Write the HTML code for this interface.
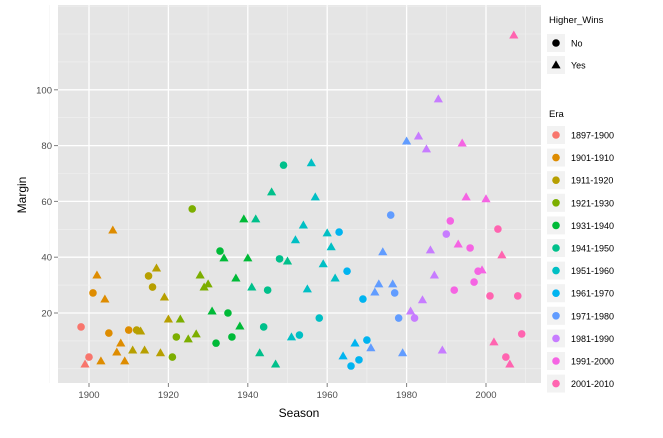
<!DOCTYPE html>
<html><head><meta charset="utf-8"><style>
body{margin:0;background:#fff;font-family:"Liberation Sans",sans-serif}
svg text{font-family:"Liberation Sans",sans-serif}
</style></head><body>
<svg id="chart" width="663" height="433" xmlns="http://www.w3.org/2000/svg">
<rect x="58" y="5" width="483" height="378" fill="#e5e5e5"/>
<g id="grid"></g>
<g id="points"></g>
<g id="axes"></g>
<text x="299" y="417" text-anchor="middle" font-size="12">Season</text>
<text transform="translate(26,195) rotate(-90)" text-anchor="middle" font-size="12">Margin</text>
<g id="legend"></g>
</svg>
<script>
const eraLabels=["1897-1900","1901-1910","1911-1920","1921-1930","1931-1940","1941-1950","1951-1960","1961-1970","1971-1980","1981-1990","1991-2000","2001-2010"];
const eraColors=["#F8766D","#DE8C00","#B79F00","#7CAE00","#00BA38","#00C08B","#00BFC4","#00B4F0","#619CFF","#C77CFF","#F564E3","#FF64B0"];
const seasons=[1898,1900,1899, 1902,1901,1904,1906,1905,1910,1908,1907,1903,1909, 1912,1913,1917,1915,1916,1919,1920,1911,1914,1918, 1926,1923,1922,1921,1925,1927,1928,1929,1930, 1933,1934,1940,1939,1937,1931,1935,1938,1932,1936, 1942,1941,1943,1947,1944,1945,1948,1950,1946,1949, 1956,1951,1952,1957,1954,1960,1961,1959,1962,1955,1958,1953, 1963,1965,1969,1970,1967,1964,1968,1966, 1976,1974,1973,1976.5,1972,1977,1978,1971,1979,1980, 1988,1983,1985,1990,1986,1987,1984,1981,1982,1989, 1994,1995,2000,1991,1993,1996,1998,1999,1997,1992, 2007,2003,2004,2001,2008,2009,2002,2005,2006];
const margins=[15,4.2,1.7, 33.6,27.2,25,49.7,12.8,13.9,9.2,6,2.8,2.8, 13.9,13.5,36.1,33.3,29.3,25.7,17.8,6.7,6.7,5.7, 57.3,17.8,11.4,4.2,10.7,12.5,33.6,29.3,30.4, 42.2,39.7,39.7,53.7,32.5,20.7,20,15.3,9.2,11.4, 53.7,29.3,5.7,1.7,15,28.2,39.4,38.6,63.4,73, 73.8,11.4,46.2,61.6,51.5,48.7,43.7,37.6,32.5,28.6,18.2,12.1, 49,35,25,10.3,9.2,4.6,3.2,1, 55.1,41.9,30.4,30.4,27.5,27.2,18.2,7.5,5.7,81.6, 96.7,83.4,78.8,48.3,42.6,33.6,24.7,20.7,18.2,6.7, 80.9,61.6,60.9,53,44.7,43.3,35,35.4,31.1,28.2, 119.6,50.1,40.8,26.1,26.1,12.5,9.6,4.2,1.7];
const eras=[0,0,0, 1,1,1,1,1,1,1,1,1,1, 2,2,2,2,2,2,2,2,2,2, 3,3,3,3,3,3,3,3,3, 4,4,4,4,4,4,4,4,4,4, 5,5,5,5,5,5,5,5,5,5, 6,6,6,6,6,6,6,6,6,6,6,6, 7,7,7,7,7,7,7,7, 8,8,8,8,8,8,8,8,8,8, 9,9,9,9,9,9,9,9,9,9, 10,10,10,10,10,10,10,10,10,10, 11,11,11,11,11,11,11,11,11];
const higher=[0,0,1, 1,0,1,1,0,0,1,1,1,1, 0,1,1,0,0,1,1,1,1,1, 0,1,0,0,1,1,1,1,1, 0,1,1,1,1,1,0,1,0,0, 1,1,1,1,0,0,0,1,1,0, 1,1,1,1,1,1,1,1,1,1,0,0, 0,0,0,0,1,1,0,0, 0,1,1,1,1,0,0,1,1,1, 1,1,1,0,1,1,1,1,0,1, 1,1,1,0,1,0,0,1,0,0, 1,0,1,0,0,0,1,0,1];
const xTicks=[1900,1920,1940,1960,1980,2000];
const yTicks=[20,40,60,80,100];
const NS="http://www.w3.org/2000/svg";
const X0=58,X1=541,Y0=5,Y1=383;
const xs=v=>89+(v-1900)*3.97;
const ys=v=>313-(v-20)*2.79;
function mk(t,a,p){const e=document.createElementNS(NS,t);for(const k in a)e.setAttribute(k,a[k]);p.appendChild(e);return e;}
const grid=document.getElementById('grid'),axes=document.getElementById('axes');
xTicks.forEach(t=>{
 const m=mk('line',{x1:xs(t-10),x2:xs(t-10),y1:Y0,y2:Y1,stroke:'#f2f2f2','stroke-width':0.6},grid);
 
 const l=mk('line',{x1:xs(t),x2:xs(t),y1:Y0,y2:Y1,stroke:'#fff','stroke-width':1.3},grid);
 
 const tk=mk('line',{x1:xs(t),x2:xs(t),y1:Y1,y2:Y1+4,stroke:'#7f7f7f'},axes);
 
 const tx=mk('text',{x:xs(t),y:Y1+15,'text-anchor':'middle','font-size':9.5,fill:'#4d4d4d'},axes);tx.textContent=t;
 
});
{const m=mk('line',{x1:xs(2010),x2:xs(2010),y1:Y0,y2:Y1,stroke:'#f2f2f2','stroke-width':0.6},grid);}
[0,10,30,50,70,90,110,120,130].forEach(v=>{if(ys(v)<Y1&&ys(v)>Y0){const m=mk('line',{x1:X0,x2:X1,y1:ys(v),y2:ys(v),stroke:'#f2f2f2','stroke-width':0.6},grid);}});
yTicks.forEach(t=>{
 const l=mk('line',{x1:X0,x2:X1,y1:ys(t),y2:ys(t),stroke:'#fff','stroke-width':1.3},grid);
 
 const tk=mk('line',{x1:X0-4,x2:X0,y1:ys(t),y2:ys(t),stroke:'#7f7f7f'},axes);
 
 const tx=mk('text',{x:X0-6,y:ys(t)+3.5,'text-anchor':'end','font-size':9.5,fill:'#4d4d4d'},axes);tx.textContent=t;
 
});
const pts=document.getElementById('points');
function shape(p,x,y,tri,c){
 let e;
 if(tri){e=mk('polygon',{points:`${x},${y-4.6} ${x-4.6},${y+3.4} ${x+4.6},${y+3.4}`,fill:c},p);}
 else{e=mk('circle',{cx:x,cy:y,r:3.8,fill:c},p);}
 return e;
}
seasons.forEach((s,i)=>{
 const e=shape(pts,xs(s),ys(margins[i]),higher[i],eraColors[eras[i]]);
 
 
});
const lg=document.getElementById('legend');
function txt(x,y,s,fs,p,name){const t=mk('text',{x:x,y:y,'font-size':fs,fill:'#000'},p);t.textContent=s;}
txt(549,23,'Higher_Wins',9.5,lg,'legend-title-higher-wins');
['No','Yes'].forEach((s,i)=>{
 const y=43+i*22;
 const b=mk('rect',{x:547,y:y-9,width:18,height:18,fill:'#f2f2f2'},lg);
 const e=shape(lg,556,y,i,'#000');
 txt(571,y+3.5,s,9,lg,'legend-label');
});
txt(549,117,'Era',9.5,lg,'legend-title-era');
eraLabels.forEach((s,i)=>{
 const y=135+i*22.6;
 const b=mk('rect',{x:547,y:y-9,width:18,height:18,fill:'#f2f2f2'},lg);
 const c=mk('circle',{cx:556,cy:y,r:3.8,fill:eraColors[i]},lg);
 txt(571,y+3.5,s,9,lg,'legend-label');
});
</script>
</body></html>
